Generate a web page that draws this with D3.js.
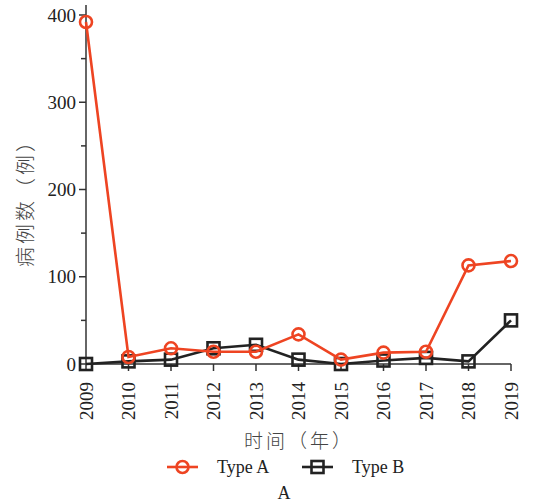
<!DOCTYPE html>
<html>
<head>
<meta charset="utf-8">
<script src="https://cdn.jsdelivr.net/npm/d3@7"></script>
<style>
  html, body { margin: 0; padding: 0; background: #fff; }
</style>
</head>
<body>
<svg id="chart" width="542" height="502"></svg>
<script>
const years = ["2009", "2010", "2011", "2012", "2013", "2014", "2015", "2016", "2017", "2018", "2019"];
const typeA = [392, 8, 18, 14, 14, 34, 5, 13, 14, 113, 118];
const typeB = [0, 3, 5, 18, 22, 5, 0, 4, 7, 3, 50];
const yTicks = [0, 100, 200, 300, 400];
const yMinorTicks = [50, 150, 250, 350];
const seriesNames = ["Type A", "Type B"];
const colorA = "#ee4422";
const colorB = "#222222";

const serif = "'Liberation Serif', 'DejaVu Serif', serif";
const cjk = "'Noto Sans CJK SC', sans-serif";

const svg = d3.select("#chart");

const x = d3.scalePoint().domain(years).range([86, 511]);
const y = d3.scaleLinear().domain([0, 400]).range([364, 15]);

const axisColor = "#333";

// Y axis
const gy = svg.append("g").attr("transform", "translate(86,0)");
gy.append("line").attr("x1", 0).attr("x2", 0).attr("y1", y(0)).attr("y2", 5)
  .attr("stroke", axisColor).attr("stroke-width", 1.5);
gy.selectAll("line.major").data(yTicks).join("line").attr("class", "major")
  .attr("x1", -7).attr("x2", 0).attr("y1", d => y(d)).attr("y2", d => y(d))
  .attr("stroke", axisColor).attr("stroke-width", 1.5);
gy.selectAll("line.minor").data(yMinorTicks).join("line").attr("class", "minor")
  .attr("x1", -5).attr("x2", 0).attr("y1", d => y(d)).attr("y2", d => y(d))
  .attr("stroke", axisColor).attr("stroke-width", 1.5);
gy.selectAll("text").data(yTicks).join("text")
  .attr("x", -10).attr("y", d => y(d)).attr("dy", "0.35em")
  .attr("text-anchor", "end").attr("font-size", 19)
  .attr("font-family", serif).attr("fill", "#222").text(d => d);

// X axis
const gx = svg.append("g");
gx.append("line").attr("x1", 86).attr("x2", 511).attr("y1", y(0)).attr("y2", y(0))
  .attr("stroke", axisColor).attr("stroke-width", 1.5);
gx.selectAll("line.tick").data(years).join("line").attr("class", "tick")
  .attr("x1", d => x(d)).attr("x2", d => x(d)).attr("y1", y(0)).attr("y2", y(0) + 7)
  .attr("stroke", axisColor).attr("stroke-width", 1.5);
gx.selectAll("text").data(years).join("text")
  .attr("transform", d => `translate(${x(d)},${y(0) + 18}) rotate(-90)`)
  .attr("text-anchor", "end").attr("dy", "0.35em").attr("font-size", 19)
  .attr("font-family", serif).attr("fill", "#222").text(d => d);

// Axis titles
svg.append("text").attr("transform", "translate(26,198) rotate(-90)")
  .attr("text-anchor", "middle").attr("dy", "0.35em").attr("font-size", 20)
  .attr("letter-spacing", 3)
  .attr("font-family", cjk).attr("font-weight", 300).attr("fill", "#444")
  .text("病例数（例）");
svg.append("text").attr("x", 299).attr("y", 441).attr("dy", "0.35em")
  .attr("text-anchor", "middle").attr("font-size", 19)
  .attr("letter-spacing", 3)
  .attr("font-family", cjk).attr("font-weight", 300).attr("fill", "#444")
  .text("时间（年）");

const line = d3.line().x((d, i) => x(years[i])).y(d => y(d));

function drawSeries(values, color, shape) {
  const g = svg.append("g");
  g.append("path").datum(values).attr("d", line)
    .attr("fill", "none").attr("stroke", color).attr("stroke-width", 2.6);
  if (shape === "circle") {
    g.selectAll("circle").data(values).join("circle")
      .attr("cx", (d, i) => x(years[i])).attr("cy", d => y(d)).attr("r", 6)
      .attr("fill", "none").attr("stroke", color).attr("stroke-width", 2.6);
  } else {
    g.selectAll("rect").data(values).join("rect")
      .attr("x", (d, i) => x(years[i]) - 6).attr("y", d => y(d) - 6)
      .attr("width", 12).attr("height", 12)
      .attr("fill", "none").attr("stroke", color).attr("stroke-width", 2.6);
  }
}

drawSeries(typeB, colorB, "square");
drawSeries(typeA, colorA, "circle");

// Legend
const legend = svg.append("g");
const items = [
  { name: seriesNames[0], color: colorA, shape: "circle", x0: 167 },
  { name: seriesNames[1], color: colorB, shape: "square", x0: 302 }
];
const ly = 467;
items.forEach(it => {
  legend.append("line").attr("x1", it.x0).attr("x2", it.x0 + 31)
    .attr("y1", ly).attr("y2", ly).attr("stroke", it.color).attr("stroke-width", 2.6);
  const cx = it.x0 + 15.5;
  if (it.shape === "circle") {
    legend.append("circle").attr("cx", cx).attr("cy", ly).attr("r", 6)
      .attr("fill", "none").attr("stroke", it.color).attr("stroke-width", 2.6);
  } else {
    legend.append("rect").attr("x", cx - 6).attr("y", ly - 6).attr("width", 12).attr("height", 12)
      .attr("fill", "none").attr("stroke", it.color).attr("stroke-width", 2.6);
  }
  legend.append("text").attr("x", it.x0 + 50).attr("y", ly).attr("dy", "0.35em")
    .attr("font-size", 18).attr("font-family", serif).attr("fill", "#222").text(it.name);
});

svg.append("text").attr("x", 284).attr("y", 493).attr("dy", "0.35em")
  .attr("text-anchor", "middle").attr("font-size", 18)
  .attr("font-family", serif).attr("fill", "#222").text("A");
</script>
</body>
</html>
